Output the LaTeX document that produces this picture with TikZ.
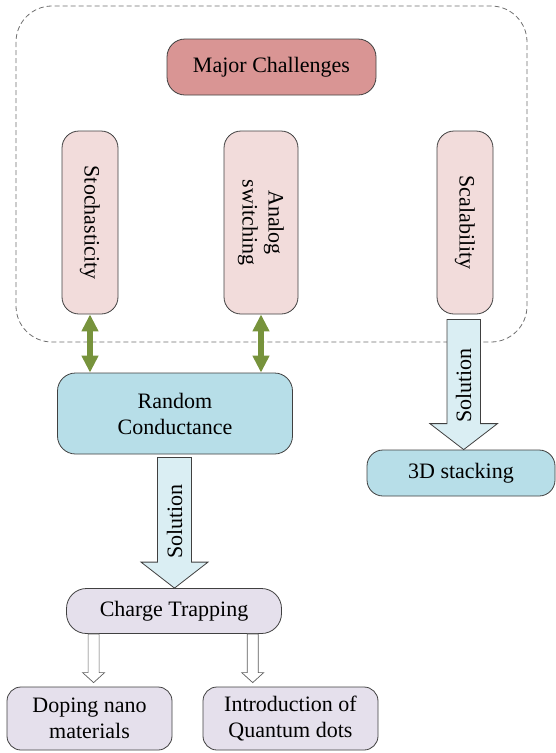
\documentclass[tikz,border=0pt]{standalone}
\usepackage{fontspec}
\setmainfont{Liberation Serif}
\usepackage{graphicx}
\usetikzlibrary{calc,arrows.meta}
\definecolor{mcfill}{HTML}{D99594}
\definecolor{redlight}{HTML}{F2DCDB}
\definecolor{aqua}{HTML}{B7DEE8}
\definecolor{aqualight}{HTML}{DAEEF3}
\definecolor{lav}{HTML}{E5E0EC}
\definecolor{oliv}{HTML}{77933C}
\definecolor{bord}{HTML}{404040}
\definecolor{dashgray}{HTML}{6F6F6F}
\tikzset{
  box/.style={draw=bord, line width=0.8pt, inner sep=0pt, align=center,
    font=\fontsize{22}{26}\selectfont},
  solarrow/.style={draw=bord, line width=0.8pt, fill=aqualight},
  hollow/.style={draw=bord!85, line width=0.7pt, fill=white},
  dbl/.style={oliv, line width=6pt,
    {Triangle[width=16pt,length=17pt]}-{Triangle[width=16pt,length=17pt]}},
}
\begin{document}
\begin{tikzpicture}[x=1pt,y=1pt]
\useasboundingbox (0,0) rectangle (556,-753);
% container
\draw[dashgray, line width=0.8pt, dash pattern=on 5pt off 3pt, rounded corners=36pt]
  (16,-6) rectangle (527,-342);
% nodes
\node[box, fill=mcfill, rounded corners=18pt, minimum width=209pt, minimum height=56pt] (mc) at (271.5,-67) {Major Challenges};
\node[box, fill=redlight, rounded corners=17pt, minimum width=56pt, minimum height=183pt] (stoch) at (90,-222.5) {\rotatebox{-90}{Stochasticity}};
\node[box, fill=redlight, rounded corners=17pt, minimum width=74pt, minimum height=183pt] (analog) at (261,-222.5) {\rotatebox{-90}{\parbox{120pt}{\centering Analog\\switching}}};
\node[box, fill=redlight, rounded corners=17pt, minimum width=56pt, minimum height=183pt] (scal) at (465,-222.5) {\rotatebox{-90}{Scalability}};
\node[box, fill=aqua, rounded corners=18pt, minimum width=235pt, minimum height=81pt] (rc) at (175,-413.5) {Random\\Conductance};
\node[box, fill=aqua, rounded corners=16pt, minimum width=188pt, minimum height=46pt] (stk) at (461,-473) {3D stacking};
\node[box, fill=lav, rounded corners=20pt, minimum width=215pt, minimum height=45pt] (ct) at (174,-611) {Charge Trapping};
\node[box, fill=lav, rounded corners=14pt, minimum width=165pt, minimum height=63pt] (dop) at (89.5,-718.5) {Doping nano\\materials};
\node[box, fill=lav, rounded corners=14pt, minimum width=175pt, minimum height=63pt] (qd) at (290.5,-718.5) {Introduction of\\Quantum dots};
% green double arrows
\draw[dbl] (stoch.south) -- (stoch.south |- rc.north);
\draw[dbl] (analog.south) -- (analog.south |- rc.north);
% right solution arrow
\coordinate (rtop) at ($(scal.south)+(-1.3,-5)$);
\coordinate (rtip) at (rtop |- stk.north);
\draw[solarrow] ($(rtop)+(-16.7,0)$) -- ($(rtop)+(16.7,0)$) -- ($(rtip)+(16.7,26)$) -- ($(rtip)+(33.8,26)$) -- (rtip) -- ($(rtip)+(-33.8,26)$) -- ($(rtip)+(-16.7,26)$) -- cycle;
\node[box, draw=none] (rsol) at ($(rtop)+(0,-66)$) {\rotatebox{90}{Solution}};
% left solution arrow
\coordinate (ltop) at ($(rc.south)+(-0.5,-3)$);
\coordinate (ltip) at (ltop |- ct.north);
\draw[solarrow] ($(ltop)+(-17,0)$) -- ($(ltop)+(17,0)$) -- ($(ltip)+(17,26)$) -- ($(ltip)+(33.5,26)$) -- (ltip) -- ($(ltip)+(-33.5,26)$) -- ($(ltip)+(-17,26)$) -- cycle;
\node[box, draw=none] (lsol) at ($(ltop)+(0,-64)$) {\rotatebox{90}{Solution}};
% hollow arrows
\coordinate (h1) at ($(ct.south)+(-80.4,0)$);
\coordinate (h1t) at ($(h1 |- dop.north)+(0,4)$);
\draw[hollow] ($(h1)+(-5.5,0)$) -- ($(h1)+(5.5,0)$) -- ($(h1t)+(5.5,10)$) -- ($(h1t)+(11,10)$) -- (h1t) -- ($(h1t)+(-11,10)$) -- ($(h1t)+(-5.5,10)$) -- cycle;
\coordinate (h2) at ($(ct.south)+(78.7,0)$);
\coordinate (h2t) at ($(h2 |- qd.north)+(0,4)$);
\draw[hollow] ($(h2)+(-5.5,0)$) -- ($(h2)+(5.5,0)$) -- ($(h2t)+(5.5,10)$) -- ($(h2t)+(11,10)$) -- (h2t) -- ($(h2t)+(-11,10)$) -- ($(h2t)+(-5.5,10)$) -- cycle;
\end{tikzpicture}
\end{document}
